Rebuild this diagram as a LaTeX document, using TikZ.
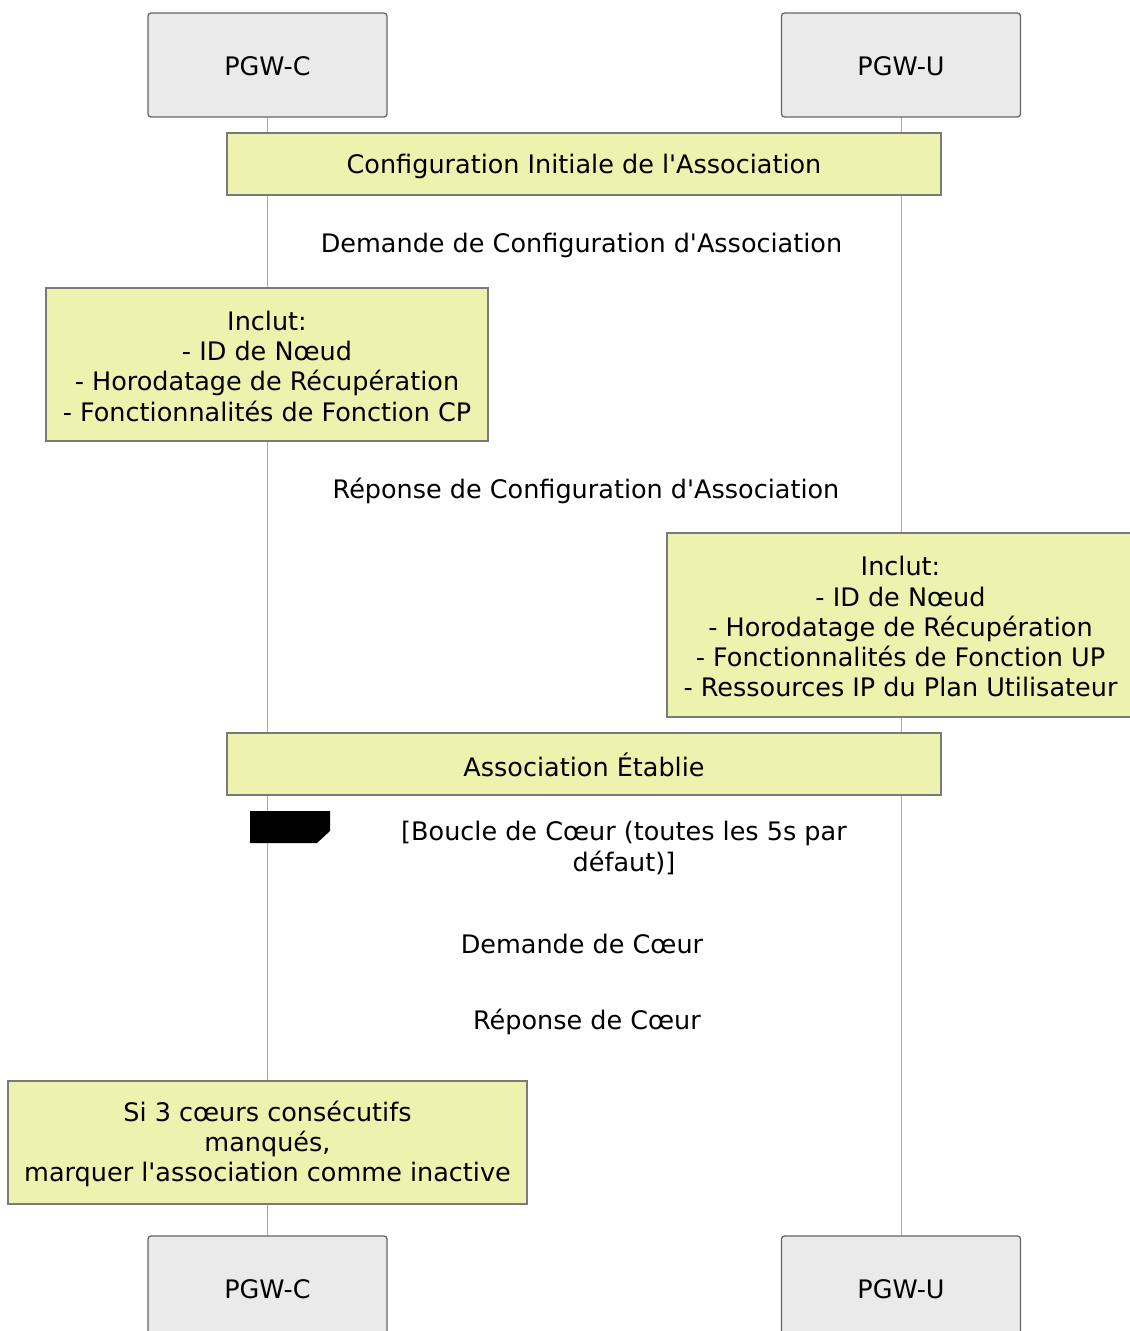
\documentclass[tikz,border=0pt]{standalone}
\usepackage{fontspec}
\newfontfamily\dvs{DejaVu Sans}
\definecolor{notefill}{HTML}{EDF2AE}
\definecolor{noteline}{HTML}{7A7A7A}
\definecolor{actfill}{HTML}{EAEAEA}
\definecolor{actline}{HTML}{666666}
\definecolor{lifeline}{HTML}{A8A8A8}
\begin{document}
\begin{tikzpicture}[x=1pt,y=-1pt,
  font=\dvs\fontsize{25.5}{30.2}\selectfont,
  actor/.style={draw=actline,fill=actfill,line width=1.3pt,rounded corners=3pt,minimum width=239pt,minimum height=104pt,inner sep=0pt},
  notebox/.style={draw=noteline,fill=notefill,line width=1.3pt,inner sep=0pt},
  msg/.style={inner sep=0pt,align=center}]
\useasboundingbox (0,0) rectangle (1130,1331);
% lifelines
\coordinate (cl1) at (267,117);
\coordinate (cl2) at (267,1236);
\coordinate (ul1) at (901,117);
\coordinate (ul2) at (901,1236);
\draw[lifeline,line width=1pt] (cl1) -- (cl2);
\draw[lifeline,line width=1pt] (ul1) -- (ul2);
% actors
\node[actor] (ctop) at (267.5,65) {};
\node[msg] (ctopt) at ([yshift=-1.5pt]ctop.center) {PGW-C};
\node[actor] (utop) at (901,65) {};
\node[msg] (utopt) at ([yshift=-1.5pt]utop.center) {PGW-U};
\node[actor] (cbot) at (267.5,1288) {};
\node[msg] (cbott) at ([yshift=-1.5pt]cbot.center) {PGW-C};
\node[actor] (ubot) at (901,1288) {};
\node[msg] (ubott) at ([yshift=-1.5pt]ubot.center) {PGW-U};
% notes
\node[notebox,minimum width=714pt,minimum height=62pt] (n1) at (584,164) {};
\node[msg] (n1t) at ([yshift=-2.5pt]n1.center) {Configuration Initiale de l'Association};
\node[msg] (m1) at (581.5,245.5) {Demande de Configuration d'Association};
\node[notebox,minimum width=442pt,minimum height=153pt] (n2) at (267,364.5) {};
\node[msg] (n2t) at ([yshift=-1.8pt]n2.center) {Inclut:\\- ID de Nœud\\- Horodatage de Récupération\\- Fonctionnalités de Fonction CP};
\node[msg] (m2) at (586,490.5) {Réponse de Configuration d'Association};
\node[notebox,minimum width=470pt,minimum height=184pt] (n3) at (902,625) {};
\node[msg] (n3t) at ([yshift=-1.8pt,xshift=-1.5pt]n3.center) {Inclut:\\- ID de Nœud\\- Horodatage de Récupération\\- Fonctionnalités de Fonction UP\\- Ressources IP du Plan Utilisateur};
\node[notebox,minimum width=714pt,minimum height=62pt] (n4) at (584,764) {};
\node[msg] (n4t) at ([yshift=-1pt]n4.center) {Association Établie};
% loop label
\fill[black] (250,811) -- (330,811) -- (330,831) -- (317,843) -- (250,843) -- cycle;
\node[msg] (loopt) at (624,848) {[Boucle de Cœur (toutes les 5s par\\défaut)]};
\node[msg] (m3) at (582,944) {Demande de Cœur};
\node[msg] (m4) at (587,1022) {Réponse de Cœur};
\node[notebox,minimum width=519pt,minimum height=123pt] (n5) at (267.5,1142.5) {};
\node[msg] (n5t) at ([yshift=-1.5pt]n5.center) {Si 3 cœurs consécutifs\\manqués,\\marquer l'association comme inactive};
\end{tikzpicture}
\end{document}
